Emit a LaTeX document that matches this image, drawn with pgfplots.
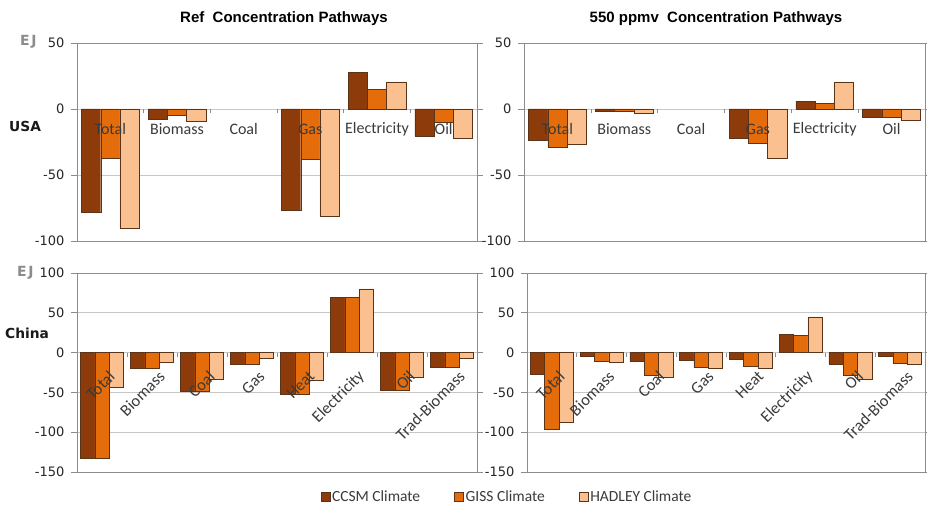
\documentclass[border=0pt]{standalone}
\usepackage{pgfplots}
\pgfplotsset{compat=1.18}
\usepackage{fontspec}
\setmainfont{Carlito}
\newfontfamily\tickfont{DejaVu Sans}
\newfontfamily\headfont{Liberation Sans}
\newfontfamily\regionfont{DejaVu Sans}

\definecolor{ccsm}{HTML}{8E3B0B}
\definecolor{giss}{HTML}{E46C0A}
\definecolor{hadley}{HTML}{FAC090}
\definecolor{baredge}{HTML}{5A3418}
\definecolor{labtext}{HTML}{3A3A3A}

\tikzset{
  catlab/.style={font=\fontsize{16}{16}\selectfont, text=labtext, anchor=center, yshift=-20pt},
  catrot/.style={font=\fontsize{16.5}{16.5}\selectfont, text=labtext, rotate=45, anchor=east, xshift=-4.5pt, yshift=-22pt},
  septick/.style={draw=black!45, line width=0.6pt},
}

\pgfplotsset{
  panel/.style={
    scale only axis, ybar, bar width=0.288,
    xtick=\empty, ymajorgrids,
    grid style={draw=black!22, line width=0.6pt},
    axis line style={draw=black!45, line width=0.6pt},
    ytick style={draw=black!45, line width=0.6pt},
    tick align=outside, major tick length=6pt,
    yticklabel style={font=\tickfont\fontsize{13}{13}\selectfont, text=black!85, xshift=-3pt},
    /pgf/number format/assume math mode=true,
    clip=false,
    every axis plot/.append style={draw=baredge, line width=0.45pt},
  },
  usapanel/.style={panel, width=400pt, height=198pt,
    xmin=0.5, xmax=6.5, ymin=-100, ymax=50, ytick={-100,-50,0,50}},
  chinapanel/.style={panel, width=400pt, height=199pt,
    xmin=0.5, xmax=8.5, ymin=-150, ymax=100, ytick={-150,-100,-50,0,50,100}},
  ccsmbar/.style={fill=ccsm, bar shift=-0.288},
  gissbar/.style={fill=giss, bar shift=0},
  hadleybar/.style={fill=hadley, bar shift=0.288},
}

\begin{document}
\begin{tikzpicture}
\useasboundingbox (0,0) rectangle (927pt,506pt);

% ---------- USA, reference pathway ----------
\begin{axis}[usapanel, at={(77pt,265pt)}, anchor=south west]
\addplot[ccsmbar]   coordinates {(1,-78) (2,-8) (4,-77) (5,27.5) (6,-20.5)};
\addplot[gissbar]   coordinates {(1,-37) (2,-4.5) (4,-38) (5,15) (6,-10)};
\addplot[hadleybar] coordinates {(1,-90) (2,-9) (4,-81) (5,20.5) (6,-22)};
\pgfplotsinvokeforeach{0,...,5}{\draw[septick] (axis cs:#1.5,0) -- ([yshift=-4pt]axis cs:#1.5,0);}
\node[catlab] at (axis cs:1,0) {Total};
\node[catlab] at (axis cs:2,0) {Biomass};
\node[catlab] at (axis cs:3,0) {Coal};
\node[catlab] at (axis cs:4,0) {Gas};
\node[catlab] at (axis cs:5,0) {Electricity};
\node[catlab] at (axis cs:6,0) {Oil};
\end{axis}

% ---------- USA, 550 ppmv pathway ----------
\begin{axis}[usapanel, width=401pt, at={(524pt,265pt)}, anchor=south west]
\addplot[ccsmbar]   coordinates {(1,-23.5) (2,-2) (4,-22.5) (5,6) (6,-6)};
\addplot[gissbar]   coordinates {(1,-29) (2,-2) (4,-26) (5,4.5) (6,-6)};
\addplot[hadleybar] coordinates {(1,-27) (2,-3) (4,-37) (5,20.5) (6,-8.5)};
\pgfplotsinvokeforeach{0,...,5}{\draw[septick] (axis cs:#1.5,0) -- ([yshift=-4pt]axis cs:#1.5,0);}
\node[catlab] at (axis cs:1,0) {Total};
\node[catlab] at (axis cs:2,0) {Biomass};
\node[catlab] at (axis cs:3,0) {Coal};
\node[catlab] at (axis cs:4,0) {Gas};
\node[catlab] at (axis cs:5,0) {Electricity};
\node[catlab] at (axis cs:6,0) {Oil};
\end{axis}

% ---------- China, reference pathway ----------
\begin{axis}[chinapanel, at={(77pt,34pt)}, anchor=south west,
  legend columns=3,
  legend style={at={(1.075,-0.126)}, anchor=center, draw=none, fill=none,
    font=\fontsize{15.5}{16}\selectfont, text=labtext,
    /tikz/every even column/.append style={column sep=32pt}},
  legend image code/.code={\draw[#1] (0pt,-4.5pt) rectangle (9pt,4.5pt);}]
\addplot[ccsmbar]   coordinates {(1,-133) (2,-20) (3,-48) (4,-15) (5,-52) (6,69) (7,-47) (8,-18)};
\addplot[gissbar]   coordinates {(1,-133) (2,-20) (3,-48.5) (4,-15) (5,-52.5) (6,69) (7,-47) (8,-18)};
\addplot[hadleybar] coordinates {(1,-44) (2,-12) (3,-33) (4,-7.5) (5,-35) (6,80) (7,-31) (8,-7)};
\legend{CCSM Climate, GISS Climate, HADLEY Climate}
\pgfplotsinvokeforeach{0,...,7}{\draw[septick] (axis cs:#1.5,0) -- ([yshift=-4pt]axis cs:#1.5,0);}
\node[catrot] at (axis cs:1,0) {Total};
\node[catrot] at (axis cs:2,0) {Biomass};
\node[catrot] at (axis cs:3,0) {Coal};
\node[catrot] at (axis cs:4,0) {Gas};
\node[catrot] at (axis cs:5,0) {Heat};
\node[catrot] at (axis cs:6,0) {Electricity};
\node[catrot] at (axis cs:7,0) {Oil};
\node[catrot] at (axis cs:8,0) {Trad-Biomass};
\end{axis}

% ---------- China, 550 ppmv pathway ----------
\begin{axis}[chinapanel, width=398pt, at={(527pt,34pt)}, anchor=south west]
\addplot[ccsmbar]   coordinates {(1,-27) (2,-4) (3,-11) (4,-9) (5,-8.5) (6,23) (7,-14.5) (8,-4)};
\addplot[gissbar]   coordinates {(1,-96) (2,-11) (3,-28) (4,-19) (5,-17) (6,21.5) (7,-29) (8,-13.5)};
\addplot[hadleybar] coordinates {(1,-87) (2,-12) (3,-31) (4,-20) (5,-20) (6,45) (7,-33) (8,-14.5)};
\pgfplotsinvokeforeach{0,...,7}{\draw[septick] (axis cs:#1.5,0) -- ([yshift=-4pt]axis cs:#1.5,0);}
\node[catrot] at (axis cs:1,0) {Total};
\node[catrot] at (axis cs:2,0) {Biomass};
\node[catrot] at (axis cs:3,0) {Coal};
\node[catrot] at (axis cs:4,0) {Gas};
\node[catrot] at (axis cs:5,0) {Heat};
\node[catrot] at (axis cs:6,0) {Electricity};
\node[catrot] at (axis cs:7,0) {Oil};
\node[catrot] at (axis cs:8,0) {Trad-Biomass};
\end{axis}

% ---------- titles and side labels ----------
\node[font=\headfont\bfseries\fontsize{15}{15}\selectfont] at (284pt,487pt) {Ref\ \ Concentration Pathways};
\node[font=\headfont\bfseries\fontsize{15}{15}\selectfont] at (716pt,487pt) {550 ppmv\ \ Concentration Pathways};
\node[font=\regionfont\bfseries\fontsize{13.8}{14}\selectfont, anchor=west, text=black!90, inner sep=0pt] at (9pt,380pt) {USA};
\node[font=\regionfont\bfseries\fontsize{13.8}{14}\selectfont, anchor=west, text=black!90, inner sep=0pt] at (5pt,173pt) {China};
\node[font=\tickfont\bfseries\fontsize{14}{14}\selectfont, text=black!45, anchor=west, inner sep=0pt] at (20pt,464pt) {E\kern1.5pt J};
\node[font=\tickfont\bfseries\fontsize{14}{14}\selectfont, text=black!45, anchor=west, inner sep=0pt] at (17pt,233pt) {E\kern1.5pt J};
\end{tikzpicture}
\end{document}
